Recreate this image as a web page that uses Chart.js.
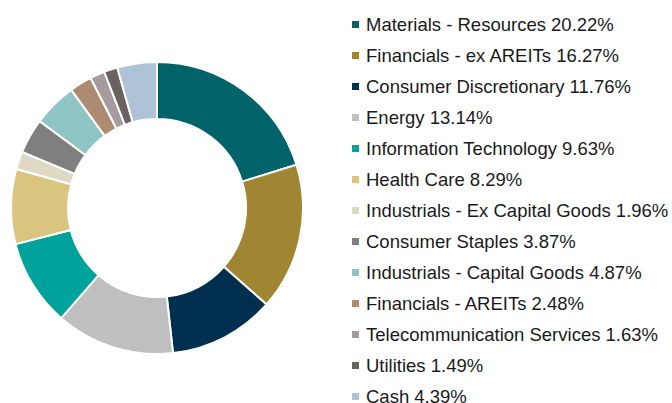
<!DOCTYPE html>
<html>
<head>
<meta charset="utf-8">
<script src="https://cdn.jsdelivr.net/npm/chart.js@4"></script>
<style>
    html, body { margin: 0; padding: 0; background: #fff; }
    body { width: 672px; height: 403px; position: relative; overflow: hidden; }
    #chartBox { position: absolute; left: 10px; top: 61px; width: 294px; height: 294px; }
    #legend {
        position: absolute; left: 352px; top: 9px; margin: 0; padding: 0; list-style: none;
        font-family: "Liberation Sans", Arial, sans-serif; font-size: 18.5px; color: #1a1a1a;
    }
    #legend li { height: 31.04px; line-height: 31.04px; white-space: nowrap; display: flex; align-items: center; }
    #legend .swatch { width: 7px; height: 7px; margin-right: 7px; flex: none; }
</style>
</head>
<body>
<div id="chartBox"><canvas id="sectorChart"></canvas></div>
<ul id="legend"></ul>
<script>
const sectors = [
    'Materials - Resources',
    'Financials - ex AREITs',
    'Consumer Discretionary',
    'Energy',
    'Information Technology',
    'Health Care',
    'Industrials - Ex Capital Goods',
    'Consumer Staples',
    'Industrials - Capital Goods',
    'Financials - AREITs',
    'Telecommunication Services',
    'Utilities',
    'Cash'
];
const weights = [20.22, 16.27, 11.76, 13.14, 9.63, 8.29, 1.96, 3.87, 4.87, 2.48, 1.63, 1.49, 4.39];
const sectorColors = [
    '#00636a', '#a08632', '#002f4f', '#bfbfbf', '#00a39b', '#dac580', '#ddd9c3',
    '#7f7f7f', '#8fc5c4', '#ad8b70', '#a59b9d', '#6a625f', '#afc2d6'
];

const ctx = document.getElementById('sectorChart').getContext('2d');
const chart = new Chart(ctx, {
    type: 'doughnut',
    data: {
        labels: sectors,
        datasets: [{
            data: weights,
            backgroundColor: sectorColors,
            borderColor: '#ffffff',
            borderWidth: 2
        }]
    },
    options: {
        responsive: true,
        maintainAspectRatio: false,
        animation: false,
        cutout: '61%',
        layout: { padding: 0 },
        plugins: {
            legend: { display: false },
            tooltip: { enabled: false }
        }
    }
});

// legend list on the right, one row per sector
const legendEl = document.getElementById('legend');
sectors.forEach((name, i) => {
    const li = document.createElement('li');
    const sw = document.createElement('span');
    sw.className = 'swatch';
    sw.style.background = sectorColors[i];
    li.appendChild(sw);
    li.appendChild(document.createTextNode(name + ' ' + weights[i].toFixed(2) + '%'));
    legendEl.appendChild(li);
});
</script>
</body>
</html>
